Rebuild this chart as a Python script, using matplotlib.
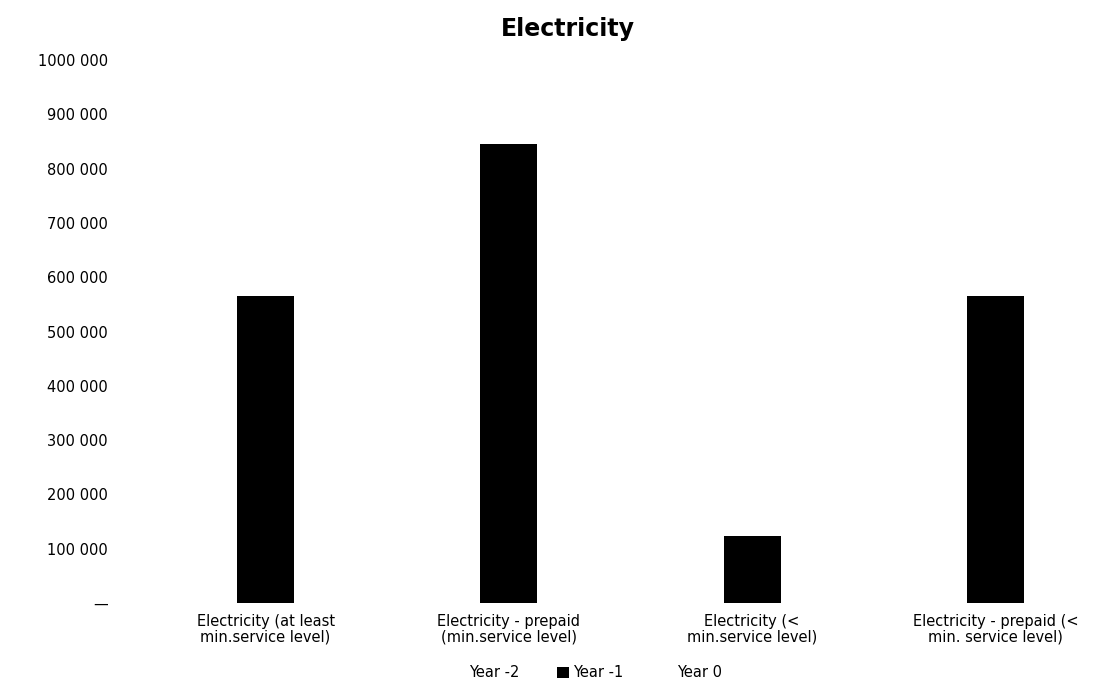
import matplotlib
matplotlib.use("Agg")
import matplotlib.pyplot as plt
import numpy as np
from matplotlib.patches import Patch

plt.rcParams['font.family'] = ['DejaVu Sans']

categories = [
    "Electricity (at least\nmin.service level)",
    "Electricity - prepaid\n(min.service level)",
    "Electricity (<\nmin.service level)",
    "Electricity - prepaid (<\nmin. service level)",
]
series_names = ["Year -2", "Year -1", "Year 0"]
year_m2 = [0, 0, 0, 0]
year_m1 = [565000, 846000, 123000, 565000]
year_0 = [0, 0, 0, 0]
series_values = [year_m2, year_m1, year_0]
series_colors = ["#ffffff", "#000000", "#ffffff"]

y_ticks = [0, 100000, 200000, 300000, 400000, 500000, 600000, 700000, 800000, 900000, 1000000]
y_tick_labels = ["\u2014", "100 000", "200 000", "300 000", "400 000", "500 000",
                 "600 000", "700 000", "800 000", "900 000", "1000 000"]

W, H = 1117, 681
fig = plt.figure(figsize=(W / 100, H / 100), dpi=100)
ax = fig.add_axes([144 / W, (H - 603) / H, (W - 144) / W, (603 - 60) / H])

x = np.arange(len(categories))
bw = 0.235
for i, (vals, col) in enumerate(zip(series_values, series_colors)):
    ax.bar(x + (i - 1) * bw, vals, width=bw, color=col, label=series_names[i])

ax.set_xlim(-0.5, len(categories) - 0.5)
ax.set_ylim(0, 1000000)
ax.set_yticks(y_ticks)
ax.set_yticklabels(y_tick_labels, fontsize=10.5)
ax.set_xticks(x)
ax.set_xticklabels(categories, fontsize=10.5, linespacing=1.0)
ax.tick_params(axis='y', length=0, pad=26)
ax.tick_params(axis='x', length=0, pad=8)
for s in ax.spines.values():
    s.set_visible(False)

fig.text(0.508, 0.958, "Electricity", ha='center', va='center',
         fontsize=17, fontweight='bold')

handles = [Patch(facecolor=c, edgecolor='none') for c in series_colors]
fig.legend(handles, series_names, loc='center', bbox_to_anchor=(0.526, 0.012),
           ncol=3, frameon=False, fontsize=10.5, handlelength=0.8, handleheight=0.8,
           handletextpad=0.3, columnspacing=2.6)

fig.savefig("out.png", dpi=100)
